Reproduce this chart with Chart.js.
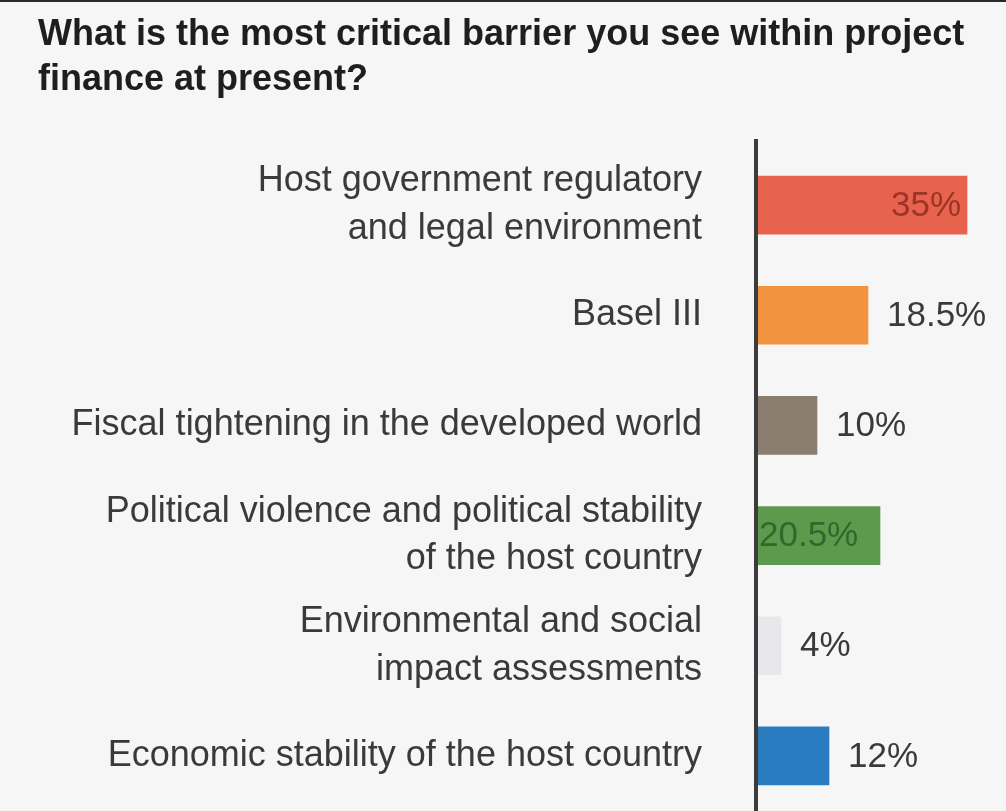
<!DOCTYPE html>
<html>
<head>
<meta charset="utf-8">
<script src="https://cdn.jsdelivr.net/npm/chart.js@4"></script>
<style>
  html, body { margin: 0; padding: 0; background: #f6f6f6; }
  #wrap { width: 1006px; height: 811px; }
</style>
</head>
<body>
<div id="wrap"><canvas id="barrierChart" width="1006" height="811"></canvas></div>
<script>
const titleLines = ['What is the most critical barrier you see within project', 'finance at present?'];

const categories = [
  ['Host government regulatory', 'and legal environment'],
  'Basel III',
  'Fiscal tightening in the developed world',
  ['Political violence and political stability', 'of the host country'],
  ['Environmental and social', 'impact assessments'],
  'Economic stability of the host country'
];
const shares = [35, 18.5, 10, 20.5, 4, 12];
const valueLabels = ['35%', '18.5%', '10%', '20.5%', '4%', '12%'];
const barColors = ['#e8634d', '#f2933f', '#8b7e71', '#5e9a4e', '#e8e8ec', '#2a7cc0'];
// where each value label sits: inside end, inside start, or outside
const labelPlace = ['insideEnd', 'outside', 'outside', 'insideStart', 'outside', 'outside'];
const labelColors = ['#9a3527', '#3a3a3a', '#3a3a3a', '#2f6a2a', '#3a3a3a', '#3a3a3a'];

const FONT = "'Liberation Sans', Arial, sans-serif";

// background, thin dark strip along the top edge, and the vertical axis line
const backdrop = {
  id: 'backdrop',
  beforeDraw(chart) {
    const ctx = chart.ctx;
    ctx.save();
    ctx.fillStyle = '#f6f6f6';
    ctx.fillRect(0, 0, chart.width, chart.height);
    ctx.fillStyle = '#2a2a2a';
    ctx.fillRect(0, 0, chart.width, 2);
    ctx.restore();
  },
  afterDatasetsDraw(chart) {
    const ctx = chart.ctx;
    const area = chart.chartArea;
    ctx.save();
    ctx.strokeStyle = '#3c3c3c';
    ctx.lineWidth = 4;
    ctx.beginPath();
    ctx.moveTo(area.left - 1, area.top - 11);
    ctx.lineTo(area.left - 1, chart.height);
    ctx.stroke();
    ctx.restore();
  }
};

// value labels next to / inside each bar
const valueText = {
  id: 'valueText',
  afterDatasetsDraw(chart) {
    const ctx = chart.ctx;
    const bars = chart.getDatasetMeta(0).data;
    ctx.save();
    ctx.font = '35px ' + FONT;
    ctx.textBaseline = 'middle';
    bars.forEach((bar, i) => {
      const place = labelPlace[i];
      ctx.fillStyle = labelColors[i];
      if (place === 'insideEnd') {
        ctx.textAlign = 'right';
        ctx.fillText(valueLabels[i], bar.x - 6, bar.y + 1);
      } else if (place === 'insideStart') {
        ctx.textAlign = 'left';
        ctx.fillText(valueLabels[i], bar.base + 2, bar.y + 1);
      } else {
        ctx.textAlign = 'left';
        ctx.fillText(valueLabels[i], bar.x + 19, bar.y + 1);
      }
    });
    ctx.restore();
  }
};

const ctx = document.getElementById('barrierChart').getContext('2d');
new Chart(ctx, {
  type: 'bar',
  data: {
    labels: categories,
    datasets: [{
      data: shares,
      backgroundColor: barColors,
      barThickness: 58,
      borderWidth: 0
    }]
  },
  options: {
    indexAxis: 'y',
    responsive: false,
    animation: false,
    events: [],
    layout: { padding: { left: 38, right: 9, top: 0, bottom: 0 } },
    plugins: {
      legend: { display: false },
      tooltip: { enabled: false },
      title: {
        display: true,
        text: titleLines,
        align: 'start',
        color: '#1e1e1e',
        font: { family: FONT, size: 36, weight: 'bold', lineHeight: 1.25 },
        padding: { top: 13, bottom: 47 }
      }
    },
    scales: {
      x: {
        display: false,
        min: 0,
        max: 40
      },
      y: {
        afterFit(scale) {
          scale.width = 719;
          scale.paddingTop = 0;
          scale.paddingBottom = 0;
        },
        grid: { display: false, drawTicks: false },
        border: { display: false },
        ticks: {
          color: '#3a3a3a',
          padding: 55,
          font: { family: FONT, size: 36, lineHeight: 1.33 }
        }
      }
    }
  },
  plugins: [backdrop, valueText]
});
</script>
</body>
</html>
